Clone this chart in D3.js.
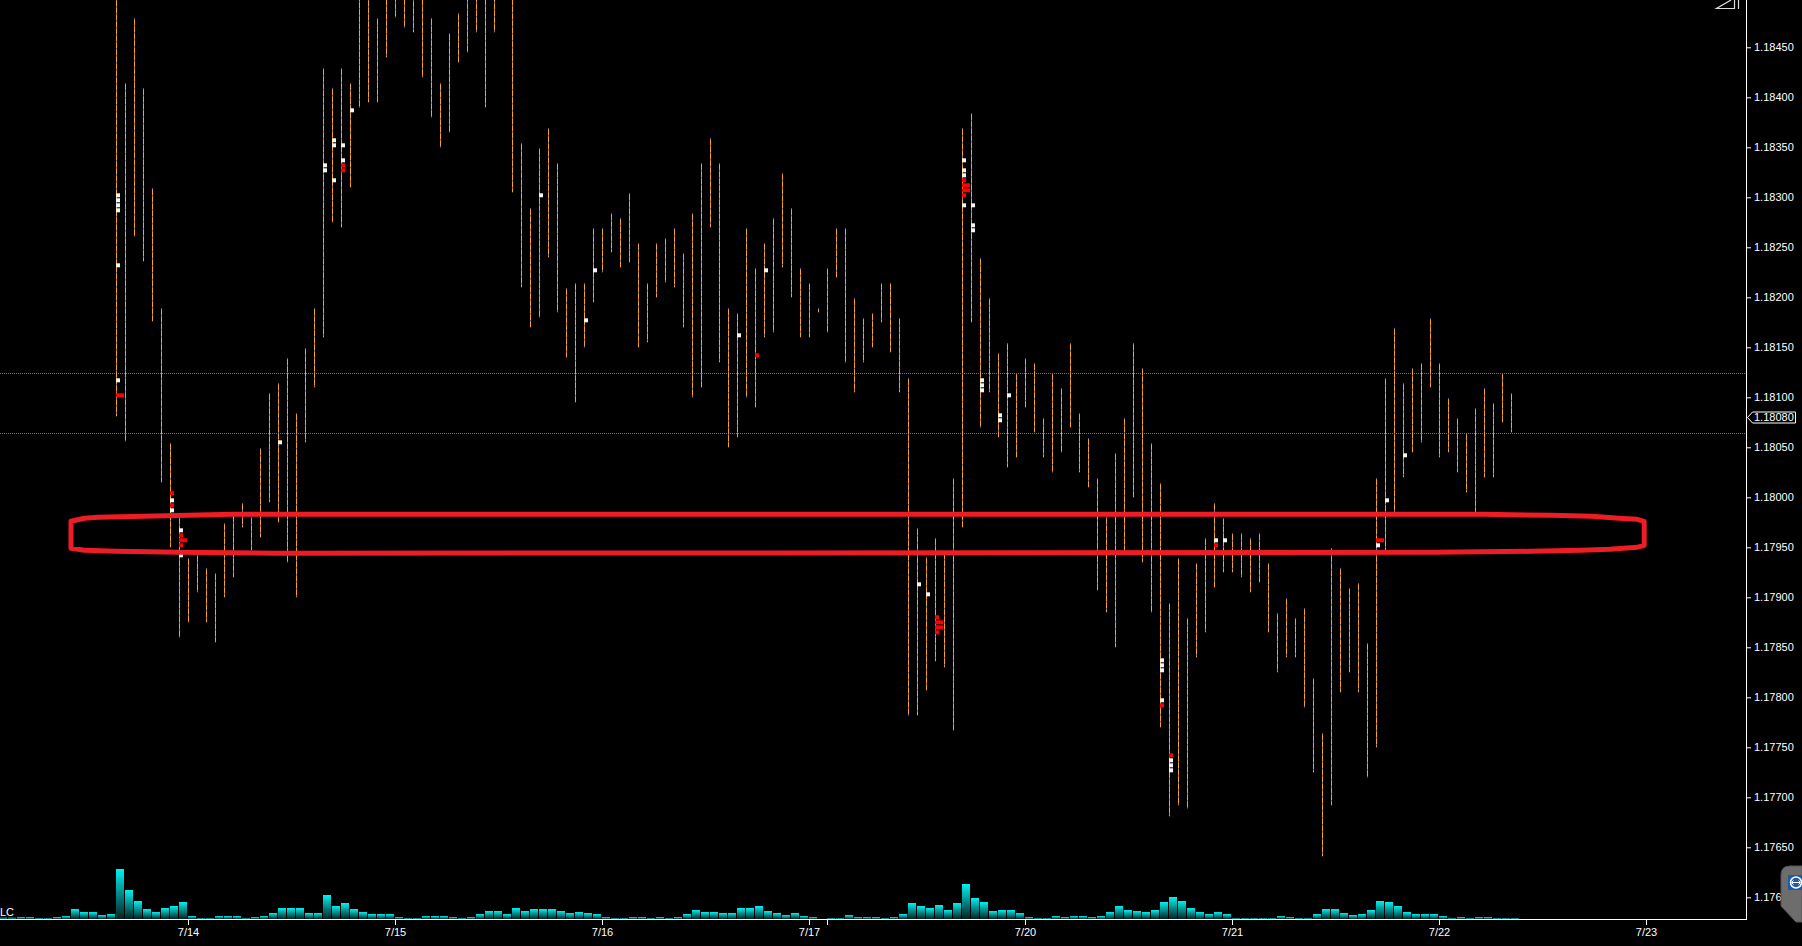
<!DOCTYPE html>
<html><head><meta charset="utf-8">
<script src="https://cdn.jsdelivr.net/npm/d3@7/dist/d3.min.js"></script>
<style>html,body{margin:0;padding:0;background:#000;overflow:hidden}svg{display:block}</style>
</head><body>
<svg id="c" width="1802" height="946"></svg>
<script>
// ---------- DATA ----------
// hourly bars, slot index 0..168 (slot 91 = weekend gap)
const barHigh = [null,null,null,null,null,null,null,null,null,null,null,null,null,
 1.18540,1.18414,1.18479,1.18409,1.18309,1.18189,1.18054,1.17980,1.17939,1.17942,
 1.17929,1.17924,1.17974,1.17982,1.17994,1.17980,1.18049,1.18104,1.18114,1.18139,
 1.18084,1.18149,1.18189,1.18429,1.18409,1.18429,1.18414,1.18510,1.18505,1.18479,
 1.18520,1.18530,1.18520,1.18525,1.18520,1.18479,1.18414,1.18464,1.18484,1.18530,
 1.18530,1.18520,1.18530,1.18560,1.18520,1.18354,1.18289,1.18349,1.18369,1.18334,
 1.18209,1.18214,1.18214,1.18269,1.18269,1.18284,1.18279,1.18304,1.18254,1.18214,
 1.18254,1.18259,1.18269,1.18244,1.18284,1.18334,1.18359,1.18334,1.18189,1.18184,
 1.18269,1.18229,1.18254,1.18279,1.18324,1.18289,1.18229,1.18214,1.18189,1.18229,
 1.18269,1.18269,1.18199,1.18179,1.18184,1.18214,1.18214,1.18179,1.18119,1.17969,
 1.17940,1.17959,1.17945,1.18019,1.18369,1.18384,1.18239,1.18199,1.18144,1.18154,
 1.18124,1.18139,1.18134,1.18079,1.18124,1.18109,1.18154,1.18084,1.18059,1.18019,
 1.17980,1.18044,1.18079,1.18154,1.18129,1.18054,1.18014,1.17894,1.17939,1.17879,
 1.17934,1.17959,1.17994,1.17979,1.17964,1.17964,1.17959,1.17964,1.17934,1.17884,
 1.17899,1.17879,1.17889,1.17819,1.17764,1.17949,1.17929,1.17909,1.17914,1.17854,
 1.18019,1.18119,1.18169,1.18114,1.18129,1.18134,1.18179,1.18134,1.18099,1.18079,
 1.18064,1.18089,1.18109,1.18094,1.18124,1.18104];
const barLow = [null,null,null,null,null,null,null,null,null,null,null,null,null,
 1.18081,1.18056,1.18261,1.18236,1.18176,1.18015,1.17950,1.17860,1.17875,1.17905,
 1.17875,1.17855,1.17900,1.17920,1.17970,1.17947,1.17960,1.17995,1.17975,1.17935,
 1.17900,1.18055,1.18110,1.18160,1.18275,1.18270,1.18310,1.18390,1.18395,1.18395,
 1.18440,1.18480,1.18470,1.18465,1.18420,1.18380,1.18350,1.18365,1.18435,1.18445,
 1.18465,1.18390,1.18465,1.18510,1.18305,1.18210,1.18170,1.18180,1.18240,1.18185,
 1.18140,1.18095,1.18150,1.18195,1.18225,1.18245,1.18230,1.18235,1.18150,1.18155,
 1.18200,1.18215,1.18210,1.18170,1.18100,1.18110,1.18270,1.18135,1.18050,1.18060,
 1.18100,1.18090,1.18160,1.18165,1.18230,1.18200,1.18160,1.18160,1.18185,1.18165,
 1.18220,1.18135,1.18105,1.18135,1.18150,1.18175,1.18145,1.18105,1.17782,1.17782,
 1.17807,1.17836,1.17830,1.17767,1.17970,1.18175,1.18070,1.18105,1.18060,1.18030,
 1.18040,1.18090,1.18065,1.18040,1.18025,1.18045,1.18070,1.18025,1.18010,1.17907,
 1.17885,1.17850,1.17945,1.18000,1.17935,1.17885,1.17770,1.17681,1.17692,1.17689,
 1.17840,1.17865,1.17910,1.17925,1.17925,1.17920,1.17905,1.17915,1.17865,1.17825,
 1.17840,1.17840,1.17790,1.17725,1.17641,1.17692,1.17805,1.17825,1.17805,1.17720,
 1.17750,1.17947,1.17985,1.18020,1.18045,1.18055,1.18110,1.18040,1.18045,1.18025,
 1.18005,1.17985,1.18020,1.18020,1.18075,1.18065];
const volume = [1.3,1.3,2,2,1,1,2,3,10,7, 7,4,5,50,29,18,10,7,11,13,
 17,3,1,1,3,3,3,1,2,3, 6,11,11,11,6,6,24,13,16,10, 7,5,5,5,2,1,1,3,3,3,
 2,1,2,5,8,8,5,11,8,10, 10,10,8,6,7,6,5,
 2,1,1,2,2,1,2,1,2,5,9,7,7,6,6,11,11,13,8,6,4,6,3,2,
 0,
 1,1,4,2,2,2,1,2,5,16, 13,11,14,9,16,35,21,17,8,9, 9,6,2,1,1,3,2,3,3,2,
 3,7,13,9,8,7,9,17,22,18, 11,7,
 5,7,5,1,1,1,1,1,3,2, 1,1,5,10,10,6,4,5,9,18, 17,13,7,5,5,5,3,1,2,1, 2,2,1,1,1];
// price marks: [slot, price, kind]  w = white, r = red, R = wide red
const marks = [
 [13,1.18302,'w'],[13,1.18297,'w'],[13,1.18292,'w'],[13,1.18287,'w'],[13,1.18232,'w'],[13,1.18117,'w'],[13,1.18102,'R'],
 [19,1.18004,'r'],[19,1.17997,'w'],[19,1.17992,'r'],[19,1.17987,'w'],
 [20,1.17967,'w'],[20,1.17962,'r'],[20,1.17957,'R'],[20,1.17952,'r'],[20,1.17942,'w'],
 [31,1.18055,'w'],[36,1.18332,'w'],[36,1.18327,'w'],
 [37,1.18357,'w'],[37,1.18352,'w'],[37,1.18317,'w'],
 [38,1.18352,'w'],[38,1.18337,'w'],[38,1.18332,'r'],[38,1.18327,'r'],
 [39,1.18387,'w'],[60,1.18302,'w'],[65,1.18177,'w'],[66,1.18227,'w'],
 [82,1.18162,'w'],[84,1.18142,'r'],[85,1.18227,'w'],
 [102,1.17913,'w'],[103,1.17903,'w'],[104,1.17880,'r'],[104,1.17875,'R'],[104,1.17870,'R'],[104,1.17865,'r'],
 [107,1.18337,'w'],[107,1.18327,'w'],[107,1.18322,'w'],[107,1.18317,'r'],[107,1.18312,'R'],[107,1.18307,'R'],[107,1.18302,'r'],[107,1.18292,'w'],
 [108,1.18292,'w'],[108,1.18272,'w'],[108,1.18267,'w'],
 [109,1.18117,'w'],[109,1.18112,'w'],[109,1.18107,'w'],
 [111,1.18082,'w'],[111,1.18077,'w'],[112,1.18102,'w'],
 [129,1.17837,'w'],[129,1.17832,'w'],[129,1.17827,'w'],[129,1.17797,'w'],[129,1.17792,'r'],
 [130,1.17742,'r'],[130,1.17737,'w'],[130,1.17732,'w'],[130,1.17727,'w'],
 [135,1.17957,'w'],[135,1.17952,'r'],[136,1.17957,'w'],
 [153,1.17957,'R'],[153,1.17952,'w'],[154,1.17997,'w'],[156,1.18042,'w']
];
const yTicks = [1.17600,1.17650,1.17700,1.17750,1.17800,1.17850,1.17900,1.17950,1.18000,
 1.18050,1.18100,1.18150,1.18200,1.18250,1.18300,1.18350,1.18400,1.18450];
const xTickSlots = [21,44,67,90,92,114,137,160,183];
const xTickLabels = ["7/14","7/15","7/16","7/17","","7/20","7/21","7/22","7/23"];
const refLines = [1.18124,1.18064];
const lastPrice = 1.18080;
// hand-drawn zone outline, [slot, price]
const zoneOutline = [
 [8,1.17976],[9.5,1.17979],[11,1.17980],[26,1.17983],[165,1.17983],[172.5,1.17982],
 [177,1.17981],[180,1.17979],[182,1.17978],[182.8,1.17976],
 [182.8,1.17952],[182,1.17950],[179,1.17948],[175.8,1.17947],[170.3,1.17946],
 [159.6,1.17945],[31,1.17944],[20,1.17945],[13,1.17946],[9.5,1.17947],[8,1.17949]
];

// ---------- SCALES ----------
const svg = d3.select("#c");
const plotRight = 1746, baseY = 919;
const x = d3.scaleLinear().domain([0,194]).range([-1,1745]);
const y = d3.scaleLinear().domain([1.176,1.1845]).range([897.3,47.3]);
const v = d3.scaleLinear().domain([0,50]).range([baseY, baseY-50]);

svg.append("rect").attr("width",1802).attr("height",946).attr("fill","#000");
const defs = svg.append("defs");
defs.append("clipPath").attr("id","plot").append("rect").attr("x",0).attr("y",0).attr("width",plotRight).attr("height",baseY);
const g = defs.append("linearGradient").attr("id","vg").attr("x1",0).attr("y1",0).attr("x2",0).attr("y2",1);
g.append("stop").attr("offset","0%").attr("stop-color","#00f2f2");
g.append("stop").attr("offset","100%").attr("stop-color","#032222");

const plot = svg.append("g").attr("clip-path","url(#plot)");

// reference dotted lines
plot.selectAll("line.ref").data(refLines).join("line")
 .attr("x1",0).attr("x2",plotRight)
 .attr("y1",d=>Math.round(y(d))+0.5).attr("y2",d=>Math.round(y(d))+0.5)
 .attr("stroke","#e8308c").attr("stroke-width",1).attr("stroke-dasharray","1 1");

// volume bars
plot.selectAll("rect.vol").data(volume.map((d,i)=>[i,d]).filter(d=>d[1]>0)).join("rect")
 .attr("x",d=>x(d[0])).attr("width",8)
 .attr("y",d=>v(d[1])).attr("height",d=>baseY-v(d[1]))
 .attr("fill","url(#vg)");

// price bars
const bars = barHigh.map((h,i)=>({i,h,l:barLow[i]})).filter(d=>d.h!=null);
plot.selectAll("line.bar").data(bars).join("line")
 .attr("x1",d=>x(d.i)+0.5).attr("x2",d=>x(d.i)+0.5)
 .attr("y1",d=>y(d.h)).attr("y2",d=>Math.max(y(d.l),y(d.h)+2))
 .attr("stroke","#ffa800").attr("stroke-width",1);
plot.selectAll("line.bard").data(bars).join("line")
 .attr("x1",d=>x(d.i)+0.5).attr("x2",d=>x(d.i)+0.5)
 .attr("y1",d=>y(d.h)).attr("y2",d=>y(d.l))
 .attr("stroke","#2a4cff").attr("stroke-width",1).attr("stroke-dasharray","1 6");

// marks
const markColor = {w:"#f4f4f4", r:"#ff0000", R:"#ff0000"};
plot.selectAll("rect.mk").data(marks).join("rect")
 .attr("x",d=>x(d[0])).attr("width",d=>d[2]==='R'?8:4)
 .attr("y",d=>y(d[1])-2).attr("height",4)
 .attr("fill",d=>markColor[d[2]]);

// axes
const yAxis = svg.append("g").attr("transform",`translate(${plotRight},0)`)
 .call(d3.axisRight(y).tickValues(yTicks).tickSize(5).tickSizeOuter(0).tickPadding(3).tickFormat(d3.format(".5f")));
yAxis.select(".domain").remove();
yAxis.selectAll("line").attr("stroke","#fff");
yAxis.selectAll("text").attr("fill","#fff").style("font","11px 'Liberation Sans', Arial, sans-serif");

const xAxis = svg.append("g").attr("transform",`translate(0,${baseY})`)
 .call(d3.axisBottom(x).tickValues(xTickSlots).tickSize(6).tickSizeOuter(0).tickPadding(3).tickFormat((d,i)=>xTickLabels[i]));
xAxis.select(".domain").remove();
xAxis.selectAll("line").attr("stroke","#fff");
xAxis.selectAll("text").attr("fill","#fff").style("font","11px 'Liberation Sans', Arial, sans-serif");

svg.append("line").attr("x1",0).attr("x2",plotRight+1).attr("y1",baseY+0.5).attr("y2",baseY+0.5).attr("stroke","#fff");
svg.append("line").attr("x1",plotRight+0.5).attr("x2",plotRight+0.5).attr("y1",0).attr("y2",baseY+1).attr("stroke","#fff");

svg.append("text").attr("x",0).attr("y",baseY-3).attr("fill","#fff")
 .style("font","11px 'Liberation Sans', Arial, sans-serif").text("LC");

// annotation zone
svg.append("path").attr("d", d3.line().x(d=>x(d[0])).y(d=>y(d[1])).curve(d3.curveLinearClosed)(zoneOutline))
 .attr("fill","none").attr("stroke","#ee1c24").attr("stroke-width",5).attr("stroke-linejoin","round");

// last price tag
const ly = Math.round(y(lastPrice))+0.5;
svg.append("path").attr("d",`M${plotRight+1.5},${ly} L${plotRight+6.5},${ly-5.5} H1795.5 V${ly+5.5} H${plotRight+6.5} Z`)
 .attr("fill","#000").attr("stroke","#fff").attr("stroke-width",1);
svg.append("text").attr("x",plotRight+8).attr("y",ly).attr("dy","0.35em").attr("fill","#fff")
 .style("font","11px 'Liberation Sans', Arial, sans-serif").text(d3.format(".5f")(lastPrice));

// top-right small icon
svg.append("path").attr("d","M1734.5,0 V8.5 H1716.5 L1731,0").attr("fill","none").attr("stroke","#ddd").attr("stroke-width",1.2);
svg.append("path").attr("d","M1738.5,0 V9").attr("stroke","#ddd").attr("stroke-width",1.2);

// overlay widget at bottom-right
svg.append("path").attr("d","M1802,866 H1790 Q1781,866 1781,875 V906 L1796,922 H1802 Z").attr("fill","#6d6d6d").attr("stroke","#555");
svg.append("rect").attr("x",1788).attr("y",875).attr("width",14).attr("height",15).attr("fill","#1d5aa6");
svg.append("circle").attr("cx",1796).attr("cy",882.5).attr("r",5.5).attr("fill","none").attr("stroke","#fff").attr("stroke-width",1.5);
svg.append("path").attr("d","M1792,882.5 H1800 M1793.5,880.5 L1791.5,882.5 L1793.5,884.5 M1798.5,880.5 L1800.5,882.5 L1798.5,884.5").attr("stroke","#fff").attr("fill","none");
</script>
</body></html>
